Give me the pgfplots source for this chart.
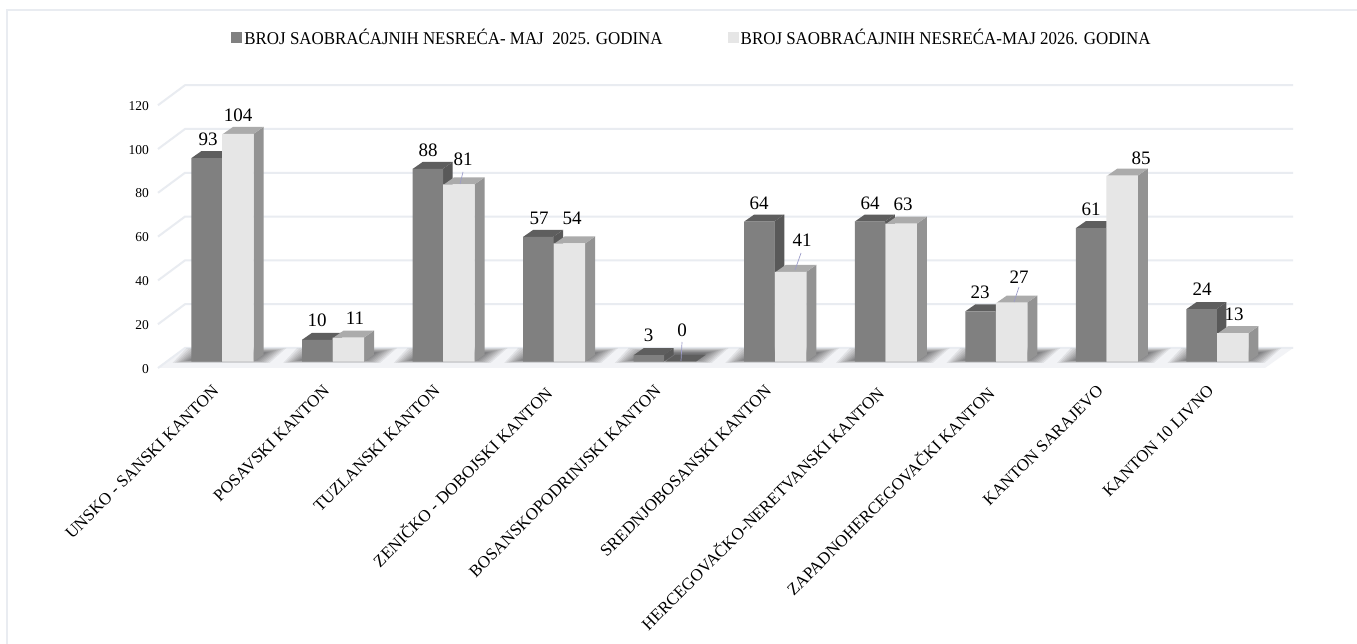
\documentclass[border=0pt]{standalone}
\usepackage{fontspec}
\setmainfont{Liberation Serif}
\usepackage{graphicx}
\usepackage{pgfplots}
\usepackage{pgfplotstable}
\pgfplotsset{compat=1.18}
\definecolor{gridc}{HTML}{E9ECF1}
\definecolor{floorc}{HTML}{F2F3F6}
\definecolor{darkf}{HTML}{808080}
\definecolor{darks}{HTML}{595959}
\definecolor{darkt}{HTML}{5E5E5E}
\definecolor{lightf}{HTML}{E6E6E6}
\definecolor{lights}{HTML}{939393}
\definecolor{lightt}{HTML}{ABABAB}
\pgfplotstableread{
x y25 y26
0 93 104
1 10 11
2 88 81
3 57 54
4 3 0
5 64 41
6 64 63
7 23 27
8 61 85
9 24 13
}\datatable
% polygon given in picture pixels, converted to axis units
\newcommand\face[9]{%
 \pgfmathsetmacro\xa{(#2-222.5)/110.55}\pgfmathsetmacro\ya{(361.7-#3)/2.19}%
 \pgfmathsetmacro\xb{(#4-222.5)/110.55}\pgfmathsetmacro\yb{(361.7-#5)/2.19}%
 \pgfmathsetmacro\xc{(#6-222.5)/110.55}\pgfmathsetmacro\yc{(361.7-#7)/2.19}%
 \pgfmathsetmacro\xd{(#8-222.5)/110.55}\pgfmathsetmacro\yd{(361.7-#9)/2.19}%
 \edef\temp{\noexpand\addplot[forget plot,draw=none,#1] coordinates {(\xa,\ya) (\xb,\yb) (\xc,\yc) (\xd,\yd)} --cycle;}\temp}
\newcommand\gridline[1]{% value on back wall
 \pgfmathsetmacro\yf{#1-2.88}\pgfmathsetmacro\yb{#1+6.26}%
 \pgfmathsetmacro\xf{(158-222.5)/110.55}\pgfmathsetmacro\xm{(185-222.5)/110.55}\pgfmathsetmacro\xe{(1293-222.5)/110.55}%
 \edef\temp{\noexpand\addplot[forget plot,color=gridc,line width=2pt] coordinates {(\xf,\yf) (\xm,\yb) (\xe,\yb)};}\temp}
% side and top of a bar: category, value, left and right offsets in px, colours
\newcommand\depth[6]{%
 \pgfmathsetmacro\cx{222.5+110.55*#1}\pgfmathsetmacro\py{361.7-2.19*#2}\pgfmathsetmacro\pb{361.7}%
 \pgfmathsetmacro\xl{\cx+#3}\pgfmathsetmacro\xr{\cx+#4}%
 \pgfmathsetmacro\xlb{\xl+10}\pgfmathsetmacro\xrb{\xr+10}\pgfmathsetmacro\pyb{\py-7}\pgfmathsetmacro\pbb{\pb-7}%
 \face{fill=#5}{\xr}{\pb}{\xrb}{\pbb}{\xrb}{\pyb}{\xr}{\py}%
 \face{fill=#6}{\xl}{\py}{\xlb}{\pyb}{\xrb}{\pyb}{\xr}{\py}}
\newcommand\shadowc[1]{%
 \pgfmathsetmacro\cx{222.5+110.55*#1}%
 \foreach \k in {0,...,9}{%
  \pgfmathsetmacro\aa{\cx-50+2.2*\k}\pgfmathsetmacro\bb{\cx-36+2.2*\k}%
  \pgfmathsetmacro\cc{\cx+64-2.5*\k}\pgfmathsetmacro\dd{\cx+47-2*\k}%
  \pgfmathsetmacro\tt{348+0.55*\k}\pgfmathsetmacro\uu{363-0.35*\k}%
  \face{fill=black,fill opacity=0.065}{\aa}{\uu}{\bb}{\tt}{\cc}{\tt}{\dd}{\uu}}}
\newcommand\lab[3]{%
 \pgfmathsetmacro\lx{(#1-222.5)/110.55}\pgfmathsetmacro\ly{(361.7-#2)/2.19}%
 \edef\temp{\noexpand\node[font=\noexpand\fontsize{19pt}{19pt}\noexpand\selectfont,text=black,inner sep=0pt] at (axis cs:\lx,\ly) {#3};}\temp}
\newcommand\leader[4]{%
 \pgfmathsetmacro\lx{(#1-222.5)/110.55}\pgfmathsetmacro\ly{(361.7-#2)/2.19}%
 \pgfmathsetmacro\mx{(#3-222.5)/110.55}\pgfmathsetmacro\my{(361.7-#4)/2.19}%
 \edef\temp{\noexpand\draw[color=blue!30!gray!60,line width=0.7pt] (axis cs:\lx,\ly) -- (axis cs:\mx,\my);}\temp}
\begin{document}
\begin{tikzpicture}
\path[use as bounding box,fill=white] (0,0) rectangle (1357pt,644pt);
\draw[color=gridc,line width=1.5pt] (7pt,0) -- (7pt,634pt) -- (1357pt,634pt);
\begin{axis}[
  at={(158pt,282.3pt)},anchor=south west,
  scale only axis,width=1107pt,height=262.8pt,
  xmin=-0.5835,xmax=9.43,ymin=0,ymax=120,
  clip=false,
  axis line style={draw=none},
  tick style={draw=none},
  xtick={0,...,9},
  xticklabels={UNSKO - SANSKI KANTON,POSAVSKI KANTON,TUZLANSKI KANTON,ZENIČKO - DOBOJSKI KANTON,BOSANSKOPODRINJSKI KANTON,SREDNJOBOSANSKI KANTON,HERCEGOVAČKO-NERETVANSKI KANTON,ZAPADNOHERCEGOVAČKI KANTON,KANTON SARAJEVO,KANTON 10 LIVNO},
  xticklabel style={rotate=45,anchor=north east,inner sep=0pt,xshift=-23.5pt,yshift=-8.2pt,font=\fontsize{16.9pt}{16.9pt}\selectfont},
  ytick={0,20,...,120},
  yticklabel style={anchor=east,yshift=-7pt,xshift=-9pt,inner sep=0pt,font=\fontsize{13.5pt}{13.5pt}\selectfont},
  /pgf/number format/assume math mode=true,
  legend style={at={(axis cs:4.247,148)},anchor=center,draw=none,fill=none,legend columns=2,font=\fontsize{18pt}{18pt}\selectfont,/tikz/column 2/.style={column sep=63pt},inner sep=0pt},
  legend image code/.code={\fill[#1] (0pt,-5pt) rectangle (11pt,6pt);},
]
\addlegendimage{fill=darkf,draw=none}
\addlegendentry{\scalebox{0.94}[1]{BROJ SAOBRAĆAJNIH NESREĆA- MAJ\ \ 2025. GODINA}}
\addlegendimage{fill=lightf,draw=none}
\addlegendentry{\scalebox{0.94}[1]{BROJ SAOBRAĆAJNIH NESREĆA-MAJ 2026. GODINA}}
% walls and floor
\face{fill=floorc}{158}{368}{185}{348}{1293}{348}{1265}{368}
\foreach \v in {0,20,...,120}{\gridline{\v}}
\foreach \c in {0,...,9}{\shadowc{\c}}
% dark series
\foreach \c/\v in {0/93,1/10,2/88,3/57,4/3,5/64,6/64,7/23,8/61,9/24}{\depth{\c}{\v}{-31}{-1}{darks}{darkt}}
\addplot[forget plot,ybar,bar width=30.5pt,bar shift=-15.8pt,fill=darkf,draw=none] table[x=x,y=y25] {\datatable};
% light series
\foreach \c/\v in {0/104,1/11,2/81,3/54,5/41,6/63,7/27,8/85,9/13}{\depth{\c}{\v}{0.5}{31}{lights}{lightt}}
\depth{4}{0}{0.5}{31}{darks}{darkt}
\addplot[forget plot,ybar,bar width=31.5pt,bar shift=15.3pt,fill=lightf,draw=none] table[x=x,y=y26] {\datatable};
% leader lines
\leader{463}{172}{460}{184}
\leader{682}{342}{681}{361}
\leader{801}{253}{795}{270}
\leader{1019}{287}{1014}{302}
% data labels
\lab{208}{139}{93}\lab{238}{115}{104}
\lab{317}{320}{10}\lab{355}{318}{11}
\lab{428}{150}{88}\lab{463}{159}{81}
\lab{539}{218}{57}\lab{572}{218}{54}
\lab{648.5}{335}{3}\lab{682}{330}{0}
\lab{759}{203}{64}\lab{802}{240}{41}
\lab{870}{203}{64}\lab{903}{204}{63}
\lab{980}{292}{23}\lab{1019}{277}{27}
\lab{1091}{209}{61}\lab{1141}{158}{85}
\lab{1202}{289}{24}\lab{1234}{314}{13}
\end{axis}
\end{tikzpicture}
\end{document}
